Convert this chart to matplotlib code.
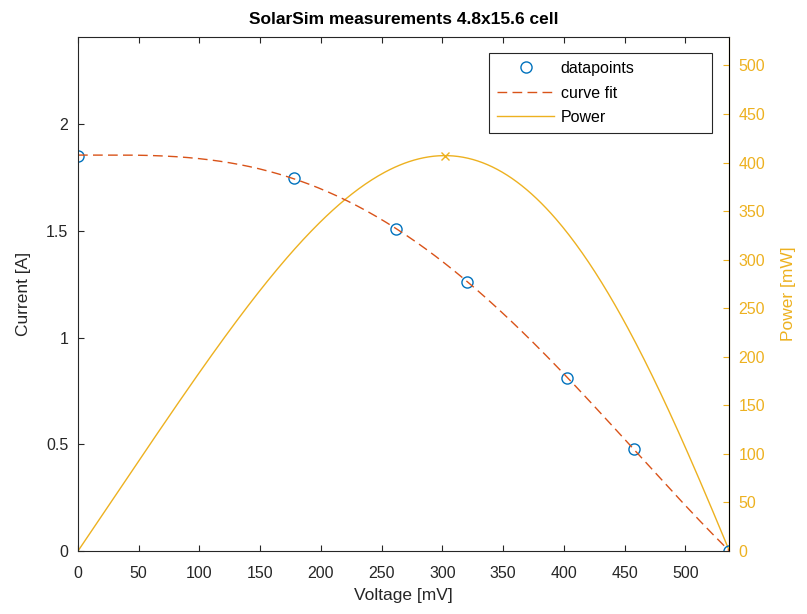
import numpy as np
import matplotlib
matplotlib.use("Agg")
import matplotlib.pyplot as plt
from matplotlib.ticker import FormatStrFormatter

plt.rcParams['font.family'] = ['Liberation Sans', 'DejaVu Sans']

# Measured cell voltage (mV) and current (A)
voltage_mv = [0, 178, 262, 320, 403, 458, 536]
current_a = [1.853, 1.75, 1.51, 1.26, 0.81, 0.48, 0.0]

blue = (0.0, 0.447, 0.741)
orange = (0.85, 0.325, 0.098)
yellow = (0.929, 0.694, 0.125)
dark = (0.15, 0.15, 0.15)

V = np.array(voltage_mv, dtype=float)
I = np.array(current_a, dtype=float)

# Least-squares fit I(V) = c0 + c2*V^2 + c3*V^3 + c4*V^4 (flat at short circuit)
scale = V.max()
x = V / scale
A = np.column_stack([np.ones_like(x), x**2, x**3, x**4])
c, *_ = np.linalg.lstsq(A, I, rcond=None)
v_fit = np.linspace(0, V.max(), 400)
xf = v_fit / scale
i_fit = c[0] + c[1] * xf**2 + c[2] * xf**3 + c[3] * xf**4
p_fit = v_fit * i_fit
k_max = np.argmax(p_fit)

fig = plt.figure(figsize=(8.07, 6.14), dpi=100)
fig.subplots_adjust(left=78/807, right=729/807, top=1-37/614, bottom=1-551/614)
ax = fig.add_subplot(111)
ax2 = ax.twinx()

h1, = ax.plot(V, I, 'o', mfc='none', mec=blue, ms=8, mew=1.0, label='datapoints')
h2, = ax.plot(v_fit, i_fit, '--', color=orange, lw=1.0, dashes=(7, 3.8), label='curve fit')
h3, = ax2.plot(v_fit, p_fit, '-', color=yellow, lw=1.0, label='Power')
ax2.plot(v_fit[k_max], p_fit[k_max], 'x', color=yellow, ms=6, mew=1.0)

ax.set_xlim(0, V.max())
ax.set_ylim(0, 1.3 * I.max())
ax2.set_ylim(0, 1.3 * p_fit.max())
ax.set_xticks(np.arange(0, 501, 50))
ax.set_yticks([0, 0.5, 1, 1.5, 2])
ax.yaxis.set_major_formatter(FormatStrFormatter('%g'))
ax2.set_yticks(np.arange(0, 501, 50))

ax.set_title('SolarSim measurements 4.8x15.6 cell', fontsize=12.5, fontweight='bold', pad=9)
ax.set_xlabel('Voltage [mV]', fontsize=12.5, color=dark, labelpad=5)
ax.set_ylabel('Current [A]', fontsize=12.5, color=dark, labelpad=11)
ax2.set_ylabel('Power [mW]', fontsize=12.5, color=yellow, labelpad=11)

ax.tick_params(axis='both', direction='in', length=4, width=0.8, labelsize=11.5,
               colors=dark, top=True, right=False)
ax.tick_params(axis='x', pad=11)
ax.tick_params(axis='y', pad=7)
ax2.tick_params(axis='y', direction='in', length=4, width=0.8, labelsize=11.5,
                colors=yellow, pad=7)
for s in ['left', 'bottom', 'top']:
    ax.spines[s].set_color(dark)
    ax.spines[s].set_linewidth(0.8)
ax2.spines['right'].set_color(yellow)
ax2.spines['right'].set_linewidth(0.8)
for s in ['left', 'bottom', 'top']:
    ax2.spines[s].set_visible(False)

leg = ax.legend([h1, h2, h3], ['datapoints', 'curve fit', 'Power'],
                loc='upper right', bbox_to_anchor=(0.631, 0.815, 0.343, 0.154),
                mode='expand', borderaxespad=0, fancybox=False, framealpha=1,
                edgecolor=dark, fontsize=11.5, handlelength=3.6, handletextpad=0.4,
                labelspacing=0.6, borderpad=0.5)
leg.get_frame().set_linewidth(0.8)
leg.set_zorder(5)
ax.set_zorder(ax2.get_zorder() + 1)
ax.patch.set_visible(False)

fig.savefig('out.png', dpi=100)
